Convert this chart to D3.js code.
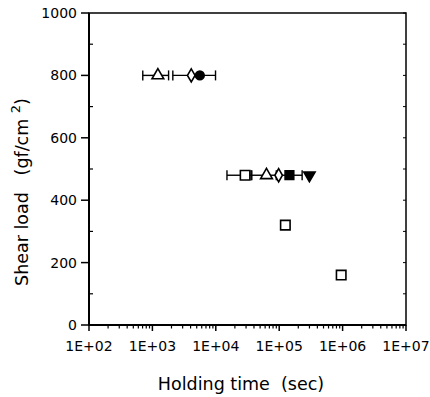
<!DOCTYPE html>
<html>
<head>
<meta charset="utf-8">
<script src="https://cdn.jsdelivr.net/npm/d3@7"></script>
<style>
  html, body { margin: 0; padding: 0; background: #fff; }
  svg { display: block; }
</style>
</head>
<body>
<svg id="chart" width="430" height="397"></svg>
<script>
// Holding time (sec) at each shear load, one array per specimen type
const openTriangle   = [{ load: 800, time: 1220, lo: 705, hi: 1800 }, { load: 480, time: 63000, lo: 36000, hi: 95000 }];
const openDiamond    = [{ load: 800, time: 4100 }, { load: 480, time: 98000 }];
const filledCircle   = [{ load: 800, time: 5600, lo: 2100, hi: 9900 }];
const openSquare     = [{ load: 480, time: 29000, lo: 15000, hi: 37000 }, { load: 320, time: 125000 }, { load: 160, time: 950000 }];
const filledSquare   = [{ load: 480, time: 145000, lo: 90000, hi: 230000 }];
const filledTriangle = [{ load: 480, time: 300000 }];

const xTickValues = [1e2, 1e3, 1e4, 1e5, 1e6, 1e7];
const xTickLabels = ["1E+02", "1E+03", "1E+04", "1E+05", "1E+06", "1E+07"];
const yTickValues = [0, 200, 400, 600, 800, 1000];

const FONT = '"DejaVu Sans", "Open Sans", sans-serif';
const svg = d3.select("#chart");
const plotL = 89, plotR = 406, plotT = 13, plotB = 325;

const x = d3.scaleLog().domain([1e2, 1e7]).range([plotL, plotR]);
const y = d3.scaleLinear().domain([0, 1000]).range([plotB, plotT]);

// Minor ticks on the log axis (2..9 within each decade)
const minor = [];
for (let d = 2; d < 7; d++) for (let m = 2; m <= 9; m++) minor.push(m * Math.pow(10, d));
const yMinor = d3.range(100, 1000, 200);

const g = svg.append("g");

// Frame (top and right edges)
g.append("rect")
  .attr("x", plotL).attr("y", plotT)
  .attr("width", plotR - plotL).attr("height", plotB - plotT)
  .attr("fill", "none").attr("stroke", "#000").attr("stroke-width", 1.5);

// Bottom axis
const xAxis = g.append("g").attr("transform", `translate(0,${plotB})`);
xAxis.append("line").attr("x1", plotL).attr("x2", plotR).attr("stroke", "#000").attr("stroke-width", 2);
xAxis.selectAll(".maj").data(xTickValues).join("line")
  .attr("x1", d => x(d)).attr("x2", d => x(d)).attr("y1", 0).attr("y2", 6)
  .attr("stroke", "#000").attr("stroke-width", 1.5);
xAxis.selectAll(".min").data(minor).join("line")
  .attr("x1", d => x(d)).attr("x2", d => x(d)).attr("y1", 0).attr("y2", 3.5)
  .attr("stroke", "#000").attr("stroke-width", 1.2);
xAxis.selectAll("text").data(xTickValues).join("text")
  .attr("x", d => x(d)).attr("y", 26)
  .attr("text-anchor", "middle").attr("font-size", 14)
  .attr("font-family", FONT).attr("fill", "#000")
  .text((d, i) => xTickLabels[i]);

// Left axis
const yAxis = g.append("g").attr("transform", `translate(${plotL},0)`);
yAxis.append("line").attr("y1", plotT).attr("y2", plotB).attr("stroke", "#000").attr("stroke-width", 2);
yAxis.selectAll(".maj").data(yTickValues).join("line")
  .attr("x1", -8).attr("x2", 0).attr("y1", d => y(d)).attr("y2", d => y(d))
  .attr("stroke", "#000").attr("stroke-width", 1.5);
yAxis.selectAll(".min").data(yMinor).join("line")
  .attr("x1", 0).attr("x2", 4).attr("y1", d => y(d)).attr("y2", d => y(d))
  .attr("stroke", "#000").attr("stroke-width", 1.2);
yAxis.selectAll("text").data(yTickValues).join("text")
  .attr("x", -12).attr("y", d => y(d)).attr("dy", "0.36em")
  .attr("text-anchor", "end").attr("font-size", 14)
  .attr("font-family", FONT).attr("fill", "#000")
  .text(d => d);

// Right edge ticks
g.selectAll(".rt").data(yTickValues.concat(yMinor)).join("line")
  .attr("x1", plotR - 3).attr("x2", plotR).attr("y1", d => y(d)).attr("y2", d => y(d))
  .attr("stroke", "#000").attr("stroke-width", 1);

// Axis titles
svg.append("text")
  .attr("x", 241).attr("y", 390)
  .attr("text-anchor", "middle").attr("font-size", 17.5)
  .attr("font-family", FONT).attr("fill", "#000")
  .attr("xml:space", "preserve")
  .text("Holding time  (sec)");
svg.append("text")
  .attr("transform", `translate(28,192) rotate(-90)`)
  .attr("text-anchor", "middle").attr("font-size", 17.5)
  .attr("font-family", FONT).attr("fill", "#000")
  .attr("xml:space", "preserve")
  .html('Shear load   (gf/cm <tspan dy="-8" font-size="13">2</tspan><tspan dy="8">)</tspan>');

// Error bars
const withErr = [].concat(openTriangle, filledCircle, openSquare, filledSquare).filter(d => d.lo);
const eb = g.append("g").attr("stroke", "#000").attr("stroke-width", 1.4);
withErr.forEach(d => {
  const cy = y(d.load);
  eb.append("line").attr("x1", x(d.lo)).attr("x2", x(d.hi)).attr("y1", cy).attr("y2", cy);
  eb.append("line").attr("x1", x(d.lo)).attr("x2", x(d.lo)).attr("y1", cy - 5).attr("y2", cy + 5);
  eb.append("line").attr("x1", x(d.hi)).attr("x2", x(d.hi)).attr("y1", cy - 5).attr("y2", cy + 5);
});

// Markers
function draw(data, type, size, filled) {
  g.append("g").selectAll("path").data(data).join("path")
    .attr("transform", d => `translate(${x(d.time)},${y(d.load)})${type === "down" ? " rotate(180)" : ""}`)
    .attr("d", d3.symbol().type(type === "down" ? d3.symbolTriangle : type).size(size))
    .attr("fill", filled ? "#000" : "#fff")
    .attr("stroke", "#000").attr("stroke-width", 1.6);
}
draw(openSquare, d3.symbolSquare, 90, false);
draw(openTriangle, d3.symbolTriangle, 60, false);
draw(openDiamond, d3.symbolDiamond, 50, false);
draw(filledCircle, d3.symbolCircle, 60, true);
draw(filledSquare, d3.symbolSquare, 75, true);
draw(filledTriangle, "down", 55, true);
</script>
</body>
</html>
